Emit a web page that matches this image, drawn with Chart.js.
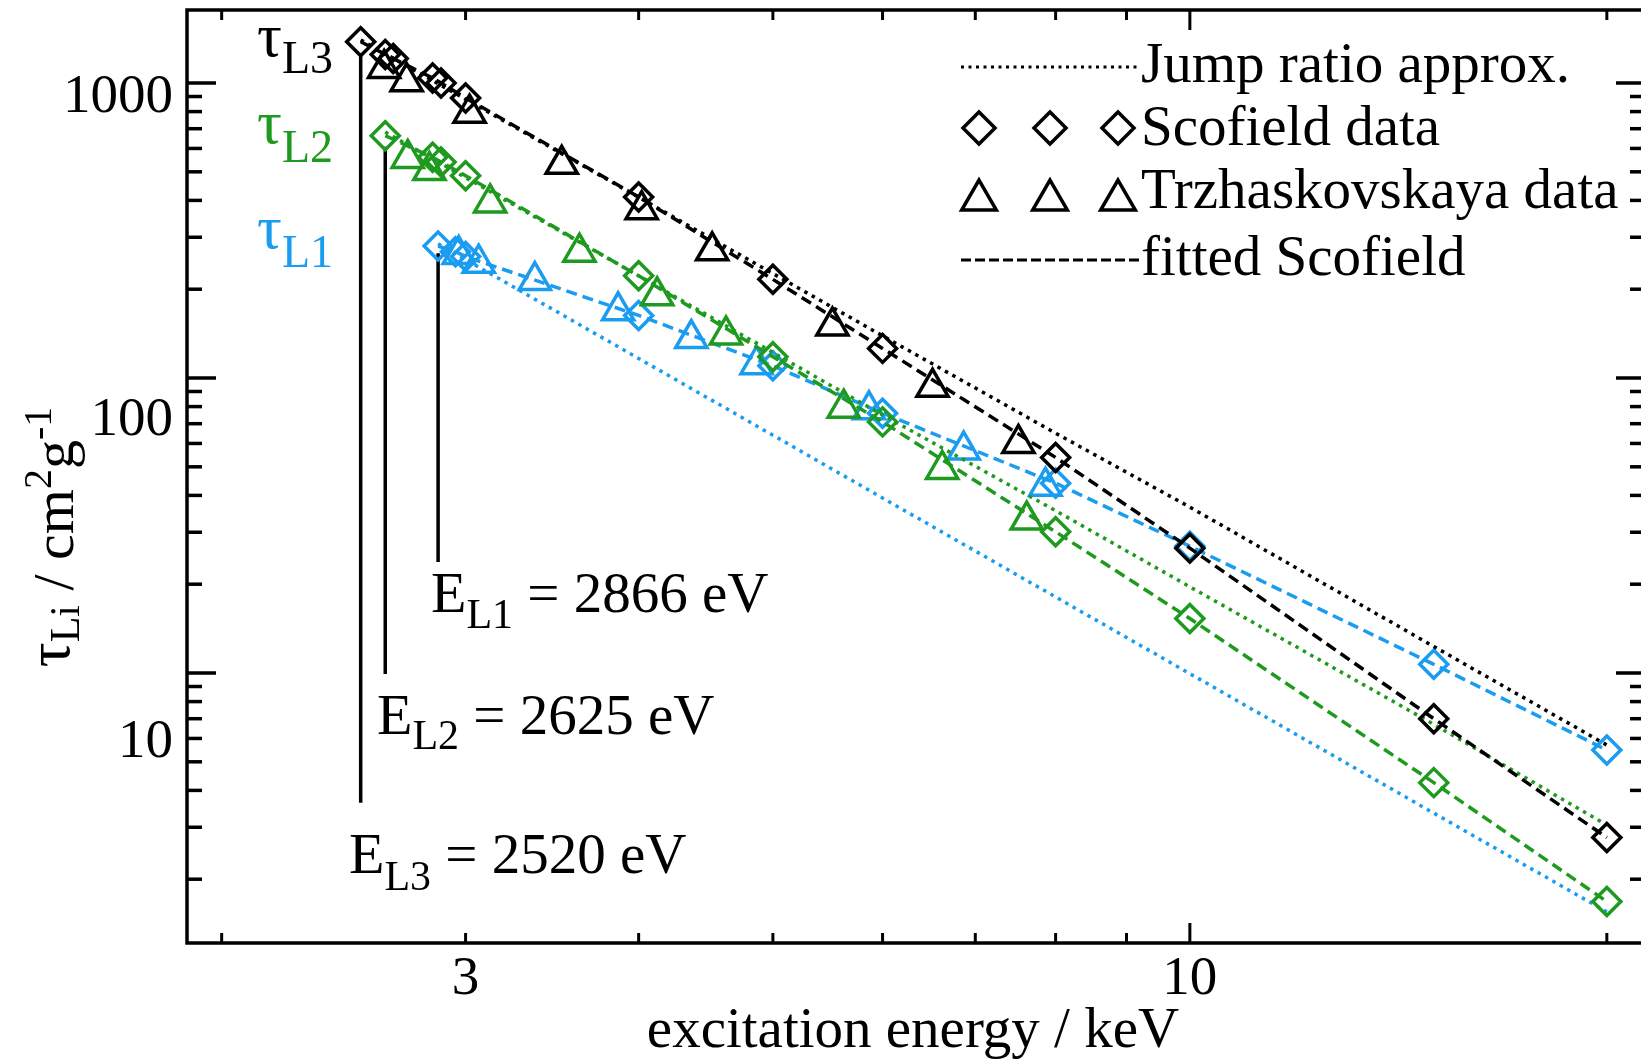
<!DOCTYPE html>
<html><head><meta charset="utf-8">
<script src="https://cdn.jsdelivr.net/npm/chart.js@4.4.1/dist/chart.umd.min.js"></script>
<style>html,body{margin:0;padding:0;background:#fff;overflow:hidden}canvas{display:block}</style>
</head><body>
<canvas id="c" width="1648" height="1061" style="width:1648px;height:1061px"></canvas>
<script>
// ---------------- data (energy in keV, tau in cm^2/g) ----------------
const edgeEnergyL3 = 2.520, edgeEnergyL2 = 2.625, edgeEnergyL1 = 2.866;
// vertical edge markers: [top, bottom] tau
const edgeLineL3 = [1260, 3.63];
const edgeLineL2 = [608, 9.92];
const edgeLineL1 = [265, 23.8];

// Scofield data (diamonds, connected by the fitted dashed line)
const scofieldE_L3   = [2.52, 2.625, 2.66, 2.84, 2.88, 3.0, 4.0, 5.0, 6.0, 8.0, 10, 15, 20];
const scofieldTau_L3 = [1380, 1250, 1210, 1040, 1000, 890, 411, 216, 126, 53.8, 26.5, 7.0, 2.77];
const scofieldE_L2   = [2.625, 2.84, 2.88, 3.0, 4.0, 5.0, 6.0, 8.0, 10, 15, 20];
const scofieldTau_L2 = [663, 560, 540, 485, 222, 118, 71, 30.1, 15.3, 4.25, 1.68];
const scofieldE_L1   = [2.866, 2.95, 3.0, 4.0, 5.0, 6.0, 8.0, 10, 15, 20];
const scofieldTau_L1 = [280, 268, 258, 163, 110, 76, 44, 26.9, 10.7, 5.48];

// Trzhaskovskaya data (triangles)
const trzE_L3   = [2.62, 2.72, 3.02, 3.52, 4.02, 4.52, 5.52, 6.52, 7.52];
const trzTau_L3 = [1120, 1010, 790, 530, 372, 270, 150, 93, 60];
const trzE_L2   = [2.725, 2.825, 3.125, 3.625, 4.125, 4.625, 5.625, 6.625, 7.625];
const trzTau_L2 = [555, 505, 392, 267, 190, 140, 79, 49, 33];
const trzE_L1   = [2.966, 3.066, 3.366, 3.866, 4.366, 4.866, 5.866, 6.866, 7.866];
const trzTau_L1 = [262, 245, 214, 169, 136, 111, 78, 57, 43];

// Jump ratio approximation (dotted)
const jumpE_L3   = [2.52, 3, 4, 5, 6, 8, 10, 15, 20];
const jumpTau_L3 = [1400, 881, 410, 226, 139, 65, 36.5, 12.3, 5.7];
const jumpE_L2   = [2.625, 3, 4, 5, 6, 8, 10, 15, 20];
const jumpTau_L2 = [682, 478, 222, 122, 75, 35.5, 19.6, 6.7, 3.05];
const jumpE_L1   = [2.866, 3, 4, 5, 6, 8, 10, 15, 20];
const jumpTau_L1 = [285, 252, 116.5, 64, 39.2, 18.1, 9.95, 3.35, 1.55];

// axes
const xRange = [1.888, 21.31];
const yRange = [1.2155, 1768];
const xMinorTicks = [2, 3, 4, 5, 6, 7, 8, 9, 20];
const xMajorTicks = [10];
const xTickLabels = [3, 10];
const yMajorTicks = [10, 100, 1000];
const yMinorTicks = [2,3,4,5,6,7,8,9,20,30,40,50,60,70,80,90,200,300,400,500,600,700,800,900];
const yTickLabels = [1000, 100, 10];

// ---------------- styles ----------------
const BLACK = '#000000', GREEN = '#1e9a1e', BLUE = '#1a9cf0';
const SERIF = '"Liberation Serif","Times New Roman",Times,serif';

const pts = (xs, ys) => xs.map((x, i) => ({ x: x, y: ys[i] }));

function jumpSet(xs, ys, color) {
  return { data: pts(xs, ys), showLine: true, borderColor: color, borderWidth: 3.5,
           borderDash: [3.5, 5], pointRadius: 0, fill: false, tension: 0 };
}
function scofSet(xs, ys, color) {
  return { data: pts(xs, ys), showLine: true, borderColor: color, borderWidth: 3.5,
           borderDash: [11, 6], pointStyle: 'rectRot', pointRadius: 14,
           pointBorderWidth: 3.5, pointBorderColor: color,
           pointBackgroundColor: 'rgba(0,0,0,0)', backgroundColor: 'rgba(0,0,0,0)',
           fill: false, tension: 0 };
}
function trzSet(xs, ys, color) {
  return { data: pts(xs, ys), showLine: false, pointStyle: 'triangle', pointRadius: 18,
           pointBorderWidth: 3.5, pointBorderColor: color, borderColor: color,
           pointBackgroundColor: 'rgba(0,0,0,0)', backgroundColor: 'rgba(0,0,0,0)' };
}
function edgeSet(e, span) {
  return { data: [{ x: e, y: span[0] }, { x: e, y: span[1] }], showLine: true,
           borderColor: BLACK, borderWidth: 3.5, pointRadius: 0, fill: false };
}

function drawRich(ctx, x, y, parts, color, align) {
  ctx.fillStyle = color;
  ctx.textAlign = 'left';
  ctx.textBaseline = 'alphabetic';
  let total = 0;
  for (const p of parts) { ctx.font = p[1] + 'px ' + SERIF; total += ctx.measureText(p[0]).width; }
  let cx = align === 'center' ? x - total / 2 : (align === 'right' ? x - total : x);
  for (const p of parts) {
    ctx.font = p[1] + 'px ' + SERIF;
    ctx.fillText(p[0], cx, y + (p[2] || 0));
    cx += ctx.measureText(p[0]).width;
  }
}

function seg(ctx, x1, y1, x2, y2) { ctx.beginPath(); ctx.moveTo(x1, y1); ctx.lineTo(x2, y2); ctx.stroke(); }

function diamond(ctx, x, y, r) {
  ctx.beginPath(); ctx.moveTo(x - r, y); ctx.lineTo(x, y - r); ctx.lineTo(x + r, y); ctx.lineTo(x, y + r);
  ctx.closePath(); ctx.stroke();
}
function triangle(ctx, x, y, r) {
  ctx.beginPath();
  ctx.moveTo(x, y - r);
  ctx.lineTo(x + Math.sin(2 * Math.PI / 3) * r, y + r / 2);
  ctx.lineTo(x - Math.sin(2 * Math.PI / 3) * r, y + r / 2);
  ctx.closePath(); ctx.stroke();
}

const decor = {
  id: 'decor',
  afterDraw(chart) {
    const ctx = chart.ctx, a = chart.chartArea, xs = chart.scales.x, ys = chart.scales.y;
    ctx.save();
    ctx.strokeStyle = BLACK; ctx.lineWidth = 3.5; ctx.lineCap = 'butt'; ctx.setLineDash([]);
    ctx.strokeRect(a.left, a.top, a.right - a.left, a.bottom - a.top);
    ctx.lineWidth = 3;
    // x ticks (bottom and top, inward)
    for (const v of xMinorTicks) {
      const p = xs.getPixelForValue(v);
      seg(ctx, p, a.bottom, p, a.bottom - 10); seg(ctx, p, a.top, p, a.top + 10);
    }
    for (const v of xMajorTicks) {
      const p = xs.getPixelForValue(v);
      seg(ctx, p, a.bottom, p, a.bottom - 20); seg(ctx, p, a.top, p, a.top + 20);
    }
    // y ticks (left and right, inward)
    ctx.lineWidth = 3.5;
    for (const v of yMinorTicks) {
      const p = ys.getPixelForValue(v);
      seg(ctx, a.left, p, a.left + 15, p); seg(ctx, a.right, p, a.right - 15, p);
    }
    for (const v of yMajorTicks) {
      const p = ys.getPixelForValue(v);
      seg(ctx, a.left, p, a.left + 29, p); seg(ctx, a.right, p, a.right - 29, p);
    }
    // tick labels
    ctx.fillStyle = BLACK;
    ctx.font = '55px ' + SERIF;
    ctx.textAlign = 'center'; ctx.textBaseline = 'alphabetic';
    for (const v of xTickLabels) ctx.fillText(String(v), xs.getPixelForValue(v), a.bottom + 51);
    ctx.textAlign = 'right';
    for (const v of yTickLabels) {
      const p = ys.getPixelForValue(v);
      const ly = a.top + (p - a.top) * 1.0932 + 3.2;   // labels sit slightly spread below their ticks
      ctx.fillText(String(v), a.left - 14, ly + 19);
    }
    // axis titles
    drawRich(ctx, 913, 1047, [['excitation energy / keV', 57]], BLACK, 'center');
    ctx.save();
    ctx.translate(73, 537);
    ctx.rotate(-Math.PI / 2);
    drawRich(ctx, 0, 0, [['τ', 62, -4], ['Li', 42, 6], [' / cm', 58], ['2', 40, -22], ['g', 58], ['-1', 40, -22]], BLACK, 'center');
    ctx.restore();
    // shell labels
    drawRich(ctx, 257, 56, [['τ', 62], ['L3', 46, 17]], BLACK);
    drawRich(ctx, 257, 143, [['τ', 62], ['L2', 46, 19]], GREEN);
    drawRich(ctx, 257, 248, [['τ', 62], ['L1', 46, 19]], BLUE);
    // edge labels
    drawRich(ctx, 431, 612, [['E', 58], ['L1', 42, 16], [' = 2866 eV', 57]], BLACK);
    drawRich(ctx, 377, 734, [['E', 58], ['L2', 42, 15], [' = 2625 eV', 57]], BLACK);
    drawRich(ctx, 349, 873, [['E', 58], ['L3', 42, 17], [' = 2520 eV', 57]], BLACK);
    // legend
    ctx.strokeStyle = BLACK; ctx.lineWidth = 3;
    ctx.setLineDash([3, 4.5]); seg(ctx, 961, 67, 1139, 67);
    ctx.setLineDash([10, 4]); seg(ctx, 961, 260, 1139, 260);
    ctx.setLineDash([]);
    ctx.lineWidth = 3.5;
    for (const cx of [979, 1050, 1118]) { diamond(ctx, cx, 128, 16); triangle(ctx, cx, 200, 20); }
    drawRich(ctx, 1141, 82, [['Jump ratio approx.', 57]], BLACK);
    drawRich(ctx, 1141, 145, [['Scofield data', 57]], BLACK);
    drawRich(ctx, 1141, 208, [['Trzhaskovskaya data', 57]], BLACK);
    drawRich(ctx, 1141, 275, [['fitted Scofield', 57]], BLACK);
    ctx.restore();
  }
};

new Chart(document.getElementById('c'), {
  type: 'scatter',
  data: {
    datasets: [
      scofSet(scofieldE_L3, scofieldTau_L3, BLACK),
      trzSet(trzE_L3, trzTau_L3, BLACK),
      jumpSet(jumpE_L3, jumpTau_L3, BLACK),
      scofSet(scofieldE_L2, scofieldTau_L2, GREEN),
      trzSet(trzE_L2, trzTau_L2, GREEN),
      jumpSet(jumpE_L2, jumpTau_L2, GREEN),
      scofSet(scofieldE_L1, scofieldTau_L1, BLUE),
      trzSet(trzE_L1, trzTau_L1, BLUE),
      jumpSet(jumpE_L1, jumpTau_L1, BLUE),
      edgeSet(edgeEnergyL3, edgeLineL3),
      edgeSet(edgeEnergyL2, edgeLineL2),
      edgeSet(edgeEnergyL1, edgeLineL1)
    ]
  },
  options: {
    responsive: false,
    animation: false,
    devicePixelRatio: 1,
    layout: { autoPadding: false, padding: { left: 187, top: 10, right: 3, bottom: 118 } },
    scales: {
      x: { type: 'logarithmic', min: xRange[0], max: xRange[1], display: false },
      y: { type: 'logarithmic', min: yRange[0], max: yRange[1], display: false }
    },
    plugins: { legend: { display: false }, tooltip: { enabled: false } }
  },
  plugins: [decor]
});
</script>
</body></html>
